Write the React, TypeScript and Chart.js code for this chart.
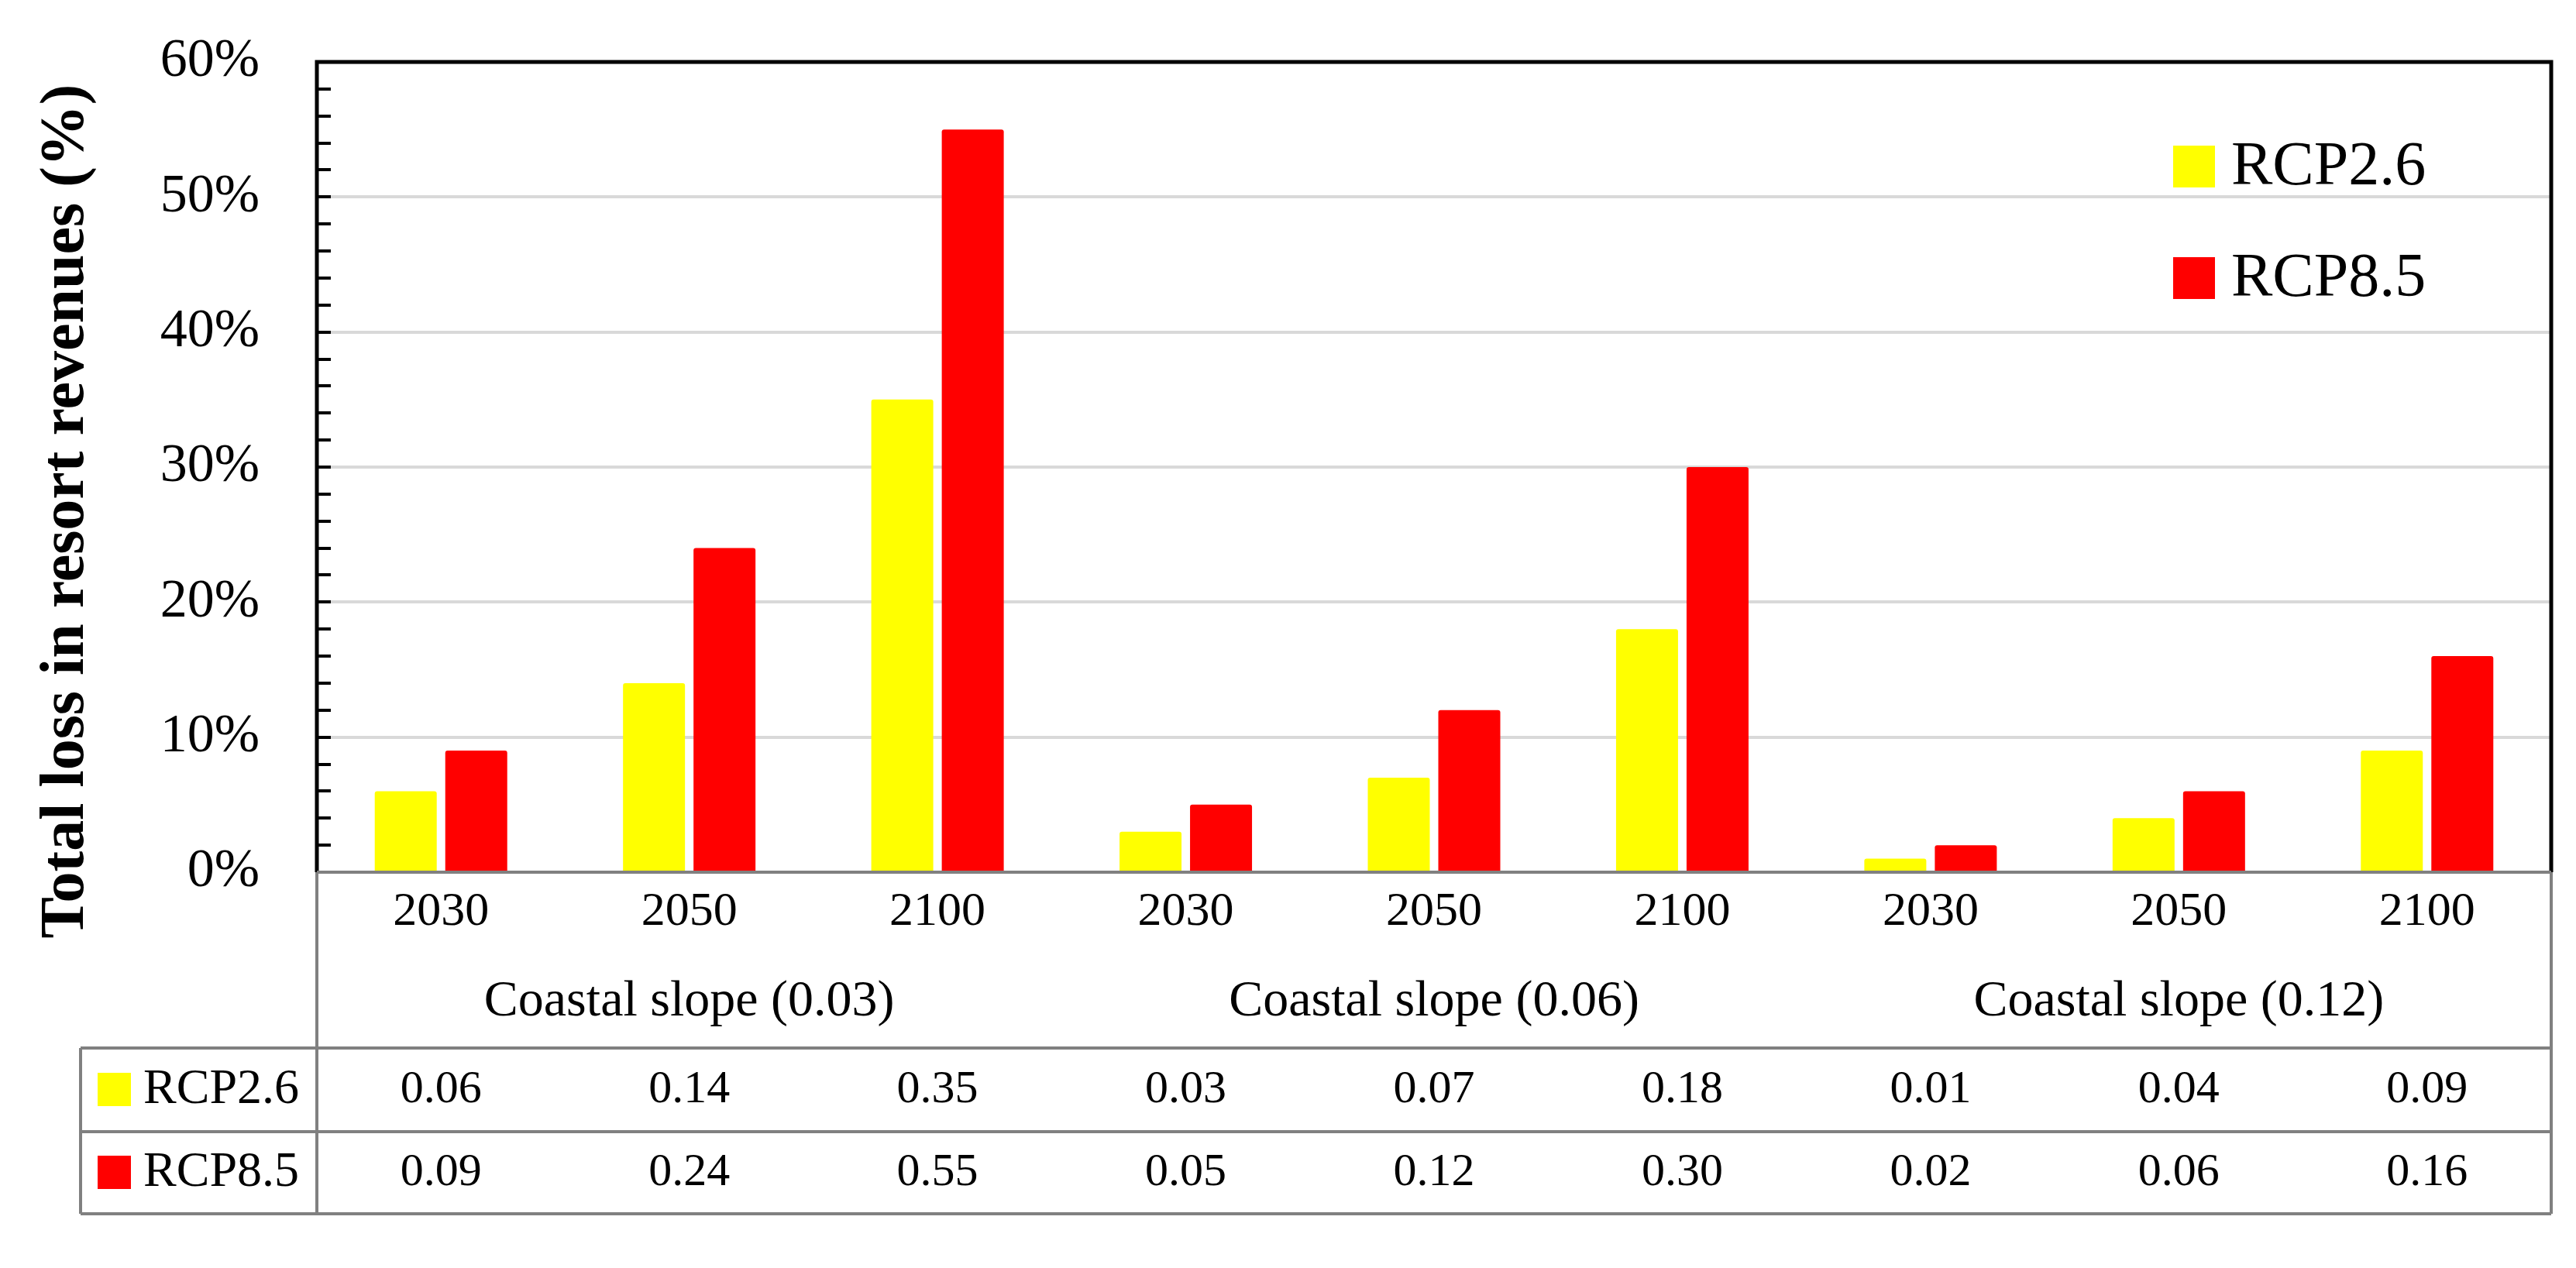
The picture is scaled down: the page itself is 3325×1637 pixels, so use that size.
import React, { useEffect, useRef } from 'react';
import { Chart, registerables } from 'chart.js';

Chart.register(...registerables);

const W = 3325;
const H = 1637;

// ---- data ----
const years = ['2030', '2050', '2100', '2030', '2050', '2100', '2030', '2050', '2100'];
const slopeGroups = ['Coastal slope (0.03)', 'Coastal slope (0.06)', 'Coastal slope (0.12)'];
const groupCenterIndex = [1, 4, 7];
const seriesNames = ['RCP2.6', 'RCP8.5'];
const rcp26 = [0.06, 0.14, 0.35, 0.03, 0.07, 0.18, 0.01, 0.04, 0.09];
const rcp85 = [0.09, 0.24, 0.55, 0.05, 0.12, 0.3, 0.02, 0.06, 0.16];
const tableText26 = ['0.06', '0.14', '0.35', '0.03', '0.07', '0.18', '0.01', '0.04', '0.09'];
const tableText85 = ['0.09', '0.24', '0.55', '0.05', '0.12', '0.30', '0.02', '0.06', '0.16'];
const yTicks = [0, 0.1, 0.2, 0.3, 0.4, 0.5, 0.6];
const minorTicks = [0, 0.02, 0.04, 0.06, 0.08, 0.1, 0.12, 0.14, 0.16, 0.18, 0.2, 0.22, 0.24, 0.26, 0.28, 0.3,
  0.32, 0.34, 0.36, 0.38, 0.4, 0.42, 0.44, 0.46, 0.48, 0.5, 0.52, 0.54, 0.56, 0.58, 0.6];
const yTitle = 'Total loss in resort revenues (%)';
const colors = ['#FFFF00', '#FF0000'];

// ---- style ----
const FONT = '"Liberation Serif", "Times New Roman", serif';
const GRAY = '#808080';
const TABLE_LEFT = 104;
const TABLE_TOP = 1353;
const TABLE_MID = 1461;
const TABLE_BOTTOM = 1567;
const ROW_Y = [1407, 1514];

const decorPlugin = {
  id: 'decor',
  afterDatasetsDraw(chart: any) {
    const { ctx, chartArea: a, scales } = chart;
    const x = scales.x;
    const y = scales.y;
    ctx.save();

    // minor tick marks on the inside of the left axis
    ctx.strokeStyle = '#000';
    ctx.lineWidth = 4;
    minorTicks.forEach((v) => {
      const py = Math.round(y.getPixelForValue(v));
      ctx.beginPath();
      ctx.moveTo(a.left, py);
      ctx.lineTo(a.left + 18, py);
      ctx.stroke();
    });

    // plot frame: top, left, right black
    ctx.lineWidth = 5;
    ctx.strokeStyle = '#000';
    ctx.beginPath();
    ctx.moveTo(a.left, a.bottom);
    ctx.lineTo(a.left, a.top);
    ctx.lineTo(a.right, a.top);
    ctx.lineTo(a.right, a.bottom);
    ctx.stroke();

    // x-axis line + table lines (gray)
    ctx.strokeStyle = GRAY;
    ctx.lineWidth = 4;
    ctx.beginPath();
    ctx.moveTo(a.left, a.bottom);
    ctx.lineTo(a.right, a.bottom);
    ctx.moveTo(a.left, a.bottom);
    ctx.lineTo(a.left, TABLE_BOTTOM);
    ctx.moveTo(a.right, a.bottom);
    ctx.lineTo(a.right, TABLE_BOTTOM);
    [TABLE_TOP, TABLE_MID, TABLE_BOTTOM].forEach((ty) => {
      ctx.moveTo(TABLE_LEFT, ty);
      ctx.lineTo(a.right, ty);
    });
    ctx.moveTo(TABLE_LEFT, TABLE_TOP);
    ctx.lineTo(TABLE_LEFT, TABLE_BOTTOM);
    ctx.stroke();

    // group labels
    ctx.fillStyle = '#000';
    ctx.textAlign = 'center';
    ctx.textBaseline = 'middle';
    ctx.font = `66px ${FONT}`;
    slopeGroups.forEach((g, i) => {
      ctx.fillText(g, x.getPixelForValue(groupCenterIndex[i]), 1294);
    });

    // table values
    ctx.font = `60px ${FONT}`;
    [tableText26, tableText85].forEach((row, r) => {
      row.forEach((t, i) => {
        ctx.fillText(t, x.getPixelForValue(i), ROW_Y[r]);
      });
    });

    // table row headers
    ctx.textAlign = 'left';
    ctx.font = `64px ${FONT}`;
    seriesNames.forEach((n, r) => {
      ctx.fillStyle = colors[r];
      ctx.fillRect(126, ROW_Y[r] - 22, 43, 43);
      ctx.fillStyle = '#000';
      ctx.fillText(n, 185, ROW_Y[r]);
    });

    // legend inside plot
    const legendY = [215, 359];
    ctx.font = `80px ${FONT}`;
    seriesNames.forEach((n, r) => {
      ctx.fillStyle = colors[r];
      ctx.fillRect(2805, legendY[r] - 27, 54, 54);
      ctx.fillStyle = '#000';
      ctx.fillText(n, 2880, legendY[r] + 2);
    });

    // y-axis title
    ctx.save();
    ctx.translate(107, 660);
    ctx.rotate(-Math.PI / 2);
    ctx.textAlign = 'center';
    ctx.textBaseline = 'alphabetic';
    ctx.font = `bold 80px ${FONT}`;
    ctx.fillStyle = '#000';
    ctx.fillText(yTitle, 0, 0);
    ctx.restore();

    ctx.restore();
  },
};

export default function App() {
  const ref = useRef<HTMLCanvasElement>(null);

  useEffect(() => {
    if (!ref.current) return;
    const chart = new Chart(ref.current, {
      type: 'bar',
      data: {
        labels: years,
        datasets: [
          {
            label: seriesNames[0],
            data: rcp26,
            backgroundColor: colors[0],
            borderRadius: 3,
            categoryPercentage: 0.568,
            barPercentage: 0.879,
          },
          {
            label: seriesNames[1],
            data: rcp85,
            backgroundColor: colors[1],
            borderRadius: 3,
            categoryPercentage: 0.568,
            barPercentage: 0.879,
          },
        ],
      },
      options: {
        responsive: false,
        maintainAspectRatio: false,
        devicePixelRatio: 1,
        animation: false,
        layout: { padding: { top: 80, right: 32, left: 0, bottom: 0 } },
        plugins: {
          legend: { display: false },
          tooltip: { enabled: false },
          title: { display: false },
        },
        scales: {
          x: {
            type: 'category',
            grid: { display: false, drawTicks: false },
            border: { display: false },
            ticks: {
              color: '#000',
              padding: 15,
              maxRotation: 0,
              autoSkip: false,
              font: { family: FONT, size: 62 },
            },
            afterFit: (s: any) => {
              s.height = 511;
              s.paddingLeft = 0;
              s.paddingRight = 0;
            },
          },
          y: {
            min: 0,
            max: 0.6,
            border: { display: false },
            grid: {
              drawTicks: false,
              lineWidth: 4,
              color: (c: any) => {
                const v = c.tick ? c.tick.value : 0;
                return v > 0.001 && v < 0.599 ? '#d9d9d9' : 'rgba(0,0,0,0)';
              },
            },
            afterBuildTicks: (s: any) => {
              s.ticks = yTicks.map((v) => ({ value: v }));
            },
            ticks: {
              color: '#000',
              padding: 74,
              font: { family: FONT, size: 70 },
              callback: (v: any) => `${Math.round(Number(v) * 100)}%`,
            },
            afterFit: (s: any) => {
              s.width = 409;
              s.paddingTop = 0;
              s.paddingBottom = 0;
            },
          },
        },
      },
      plugins: [decorPlugin],
    });
    return () => chart.destroy();
  }, []);

  return (
    <div style={{ position: 'absolute', left: 0, top: 0, width: W, height: H, background: '#fff' }}>
      <canvas ref={ref} width={W} height={H} style={{ display: 'block', width: W, height: H }} />
    </div>
  );
}
